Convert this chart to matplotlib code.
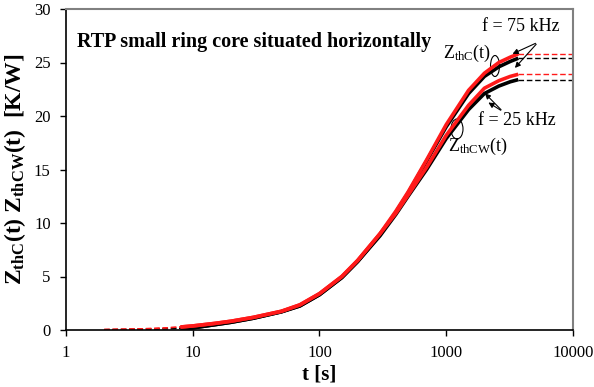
import numpy as np
import matplotlib
matplotlib.use('Agg')
import matplotlib.pyplot as plt
from matplotlib.patches import Ellipse

plt.rcParams['font.family'] = 'Liberation Serif'
plt.rcParams['mathtext.fontset'] = 'custom'
plt.rcParams['mathtext.rm'] = 'Liberation Serif'
plt.rcParams['mathtext.it'] = 'Liberation Serif:italic'
plt.rcParams['mathtext.bf'] = 'Liberation Serif:bold'

# time points [s]
t = [2, 3, 5, 8, 10, 15, 20, 30, 50, 70, 100, 150, 200, 300, 400, 500,
     700, 1000, 1500, 2000, 2600, 3200, 3700]

# Z_thC(t), ring core, f = 75 kHz (red) and 25 kHz (black)
zc_75 = [0.05, 0.08, 0.15, 0.28, 0.38, 0.62, 0.82, 1.18, 1.75, 2.35, 3.4,
         5.0, 6.5, 9.0, 11.1, 12.9, 15.9, 19.2, 22.4, 24.0, 25.0, 25.5, 25.8]
zc_25 = [0.03, 0.05, 0.1, 0.15, 0.2, 0.5, 0.72, 1.1, 1.7, 2.25, 3.3,
         4.9, 6.4, 8.9, 11.0, 12.8, 15.8, 19.0, 22.1, 23.7, 24.6, 25.1, 25.4]

# Z_thCW(t), ring core with winding
zcw_75 = [0.05, 0.08, 0.15, 0.28, 0.38, 0.62, 0.82, 1.18, 1.75, 2.35, 3.4,
          5.0, 6.5, 9.0, 10.9, 12.6, 15.2, 18.2, 21.0, 22.6, 23.3, 23.7, 23.9]
zcw_25 = [0.03, 0.05, 0.1, 0.15, 0.2, 0.5, 0.72, 1.1, 1.7, 2.25, 3.3,
          4.9, 6.4, 8.8, 10.8, 12.5, 15.0, 17.9, 20.6, 22.1, 22.8, 23.2, 23.4]

x_ticks = [1, 10, 100, 1000, 10000]
x_tick_labels = ['1', '10', '100', '1000', '10000']
y_ticks = [0, 5, 10, 15, 20, 25, 30]

W, H = 594, 387
fig = plt.figure(figsize=(W / 100, H / 100), dpi=100)
ax = fig.add_axes([66 / W, 1 - 330 / H, (573 - 66) / W, 321 / H])


def draw(ys, color):
    # early part dashed, measured part thick, extrapolation dashed
    ax.plot(t[:4], ys[:4], color=color, lw=1.0, ls=(0, (4, 2)))
    ax.plot(t[3:], ys[3:], color=color, lw=2.6, solid_capstyle='butt')
    ax.plot([t[-1], 10000], [ys[-1], ys[-1]], color=color, lw=1.0,
            ls=(0, (4, 2)))


draw(zc_25, 'black')
draw(zcw_25, 'black')
draw(zc_75, '#ff1a1a')
draw(zcw_75, '#ff1a1a')

ax.set_xscale('log')
ax.set_xlim(1, 10000)
ax.set_ylim(0, 30)
ax.set_xticks(x_ticks)
ax.set_xticklabels(x_tick_labels)
ax.xaxis.set_minor_locator(matplotlib.ticker.NullLocator())
ax.set_yticks(y_ticks)
ax.tick_params(axis='both', direction='out', length=4, width=1,
               labelsize=12, pad=7)
for s in ['top', 'right']:
    ax.spines[s].set_color('#808080')
    ax.spines[s].set_linewidth(1.5)
for s in ['left', 'bottom']:
    ax.spines[s].set_linewidth(1.2)

ax.set_xlabel('t [s]', fontsize=15, fontweight='bold', labelpad=2)
ax.set_ylabel(r'$\mathbf{Z_{thC}(t)\ Z_{thCW}(t)\ \ [K/W]}$', fontsize=17,
              labelpad=4)

ax.text(0.022, 0.897, 'RTP small ring core situated horizontally',
        transform=ax.transAxes, fontsize=14.5, fontweight='bold',
        va='center')

ax.text(0.821, 0.944, 'f = 75 kHz', transform=ax.transAxes, fontsize=13,
        va='center')
ax.text(0.813, 0.654, 'f = 25 kHz', transform=ax.transAxes, fontsize=13,
        va='center')
ax.text(0.744, 0.863, r'$\mathrm{Z_{thC}(t)}$', transform=ax.transAxes,
        fontsize=13, va='center')
ax.text(0.753, 0.573, r'$\mathrm{Z_{thCW}(t)}$', transform=ax.transAxes,
        fontsize=13, va='center')

arrow = dict(arrowstyle='-|>', color='black', lw=0.8, mutation_scale=8)
ax.annotate('', xy=(3185, 25.7), xytext=(5300, 26.9), arrowprops=arrow)
ax.annotate('', xy=(3365, 24.3), xytext=(5300, 26.9), arrowprops=arrow)
ax.annotate('', xy=(1950, 22.3), xytext=(2805, 20.4), arrowprops=arrow)
ax.annotate('', xy=(2060, 21.4), xytext=(2805, 20.4), arrowprops=arrow)

ax.add_patch(Ellipse(((495 - 66) / 507, (330 - 66) / 321), 9 / 507, 21 / 321,
                     transform=ax.transAxes, fill=False, lw=0.8))
ax.add_patch(Ellipse(((457 - 66) / 507, (330 - 129) / 321), 12 / 507,
                     20 / 321, transform=ax.transAxes, fill=False, lw=0.8))

fig.savefig('out.png', dpi=100)
